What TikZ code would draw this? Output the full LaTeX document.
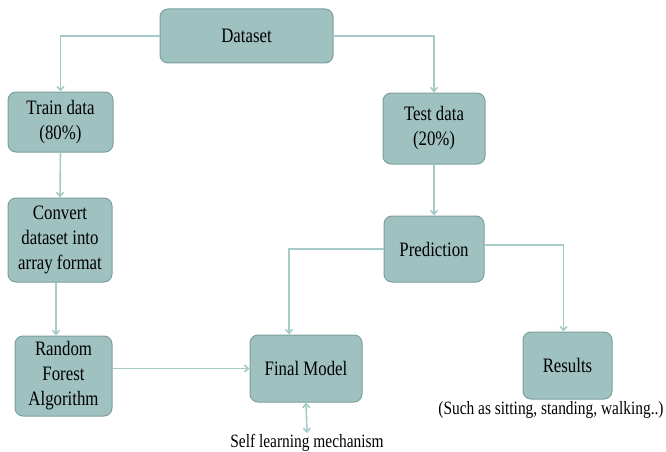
\documentclass[tikz,border=0pt]{standalone}
\usepackage{fontspec}
\setmainfont{Liberation Serif}[FakeStretch=0.82]
\usepackage{tikz}
\usetikzlibrary{arrows.meta,positioning}
\definecolor{BoxFill}{HTML}{9FC1BF}
\definecolor{BoxEdge}{HTML}{7D9F9D}
\definecolor{LineTeal}{HTML}{A5CAC8}

\begin{document}
\begin{tikzpicture}[
  x=1pt, y=-1pt,
  box/.style={draw=BoxEdge, fill=BoxFill, rounded corners=8pt, line width=1pt,
    inner sep=2pt, align=center, font=\fontsize{20.5}{25}\selectfont},
  note/.style={inner sep=1pt, font=\fontsize{18.8}{20}\selectfont},
  arr/.style={-{Straight Barb[length=4pt,width=7pt]}, LineTeal, line width=1.6pt},
  darr/.style={{Straight Barb[length=4pt,width=7pt]}-{Straight Barb[length=4pt,width=7pt]}, LineTeal, line width=1.6pt}
]
  \useasboundingbox (0,0) rectangle (666,452);
  \node[box, minimum width=173pt, minimum height=54pt] (data) at (246.5,36) {Dataset};
  \node[box, minimum width=105pt, minimum height=60pt] (train) at (60.5,122) {Train data\\(80\%)};
  \node[box, minimum width=102pt, minimum height=71pt] (test) at (434,128.5) {Test data\\(20\%)};
  \node[box, minimum width=104pt, minimum height=84pt] (conv) at (60,240) {Convert\\dataset into\\array format};
  \node[box, minimum width=100pt, minimum height=66pt] (pred) at (434,249) {Prediction};
  \node[box, minimum width=97pt, minimum height=80pt] (rf) at (63.5,376) {Random\\Forest\\Algorithm};
  \node[box, minimum width=112pt, minimum height=67pt] (final) at (306,368.5) {Final Model};
  \node[box, minimum width=89pt, minimum height=67pt] (res) at (567.5,365.5) {Results};
  \node[note] (cap) at (551,410) {(Such as sitting, standing, walking..)};
  \node[note] (self) at (307,443) {Self learning mechanism};

  \draw[arr] (data.west) -| (train.north);
  \draw[arr] (data.east) -| (test.north);
  \draw[arr] (train.south) -- (conv.north);
  \draw[arr] ([xshift=-4pt]conv.south) -- ([xshift=-4pt]conv.south |- rf.north);
  \draw[arr] (test.south) -- (pred.north);
  \draw[arr] (pred.west) -| ([xshift=-17pt]final.north);
  \draw[arr] ([yshift=4pt]pred.east) -| ([xshift=-4pt]res.north);
  \draw[arr] (rf.east |- final.west) -- (final.west);
  \draw[darr] (final.south) -- (self.north);
\end{tikzpicture}
\end{document}
